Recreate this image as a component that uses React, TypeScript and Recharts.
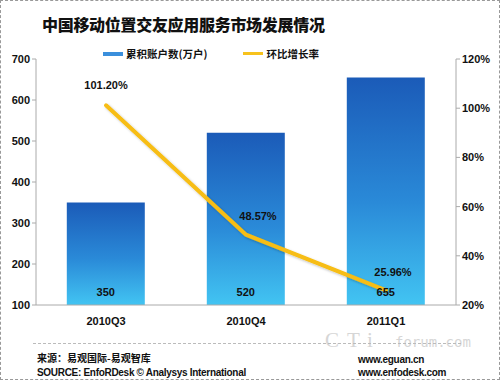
import {
  Bar,
  ComposedChart,
  LabelList,
  Line,
  XAxis,
  YAxis,
} from "recharts";

const quarters = ["2010Q3", "2010Q4", "2011Q1"];
const accounts = [350, 520, 655];
const growth = [101.2, 48.57, 25.96];
const growthLabels = ["101.20%", "48.57%", "25.96%"];
const leftTicks = [100, 200, 300, 400, 500, 600, 700];
const rightTicks = [20, 40, 60, 80, 100, 120];

const data = quarters.map((q, i) => ({
  q,
  accounts: accounts[i],
  growth: growth[i],
  label: growthLabels[i],
}));

// nudges for the growth labels so they sit like the original
const growthLabelShift = [
  { dx: 0, dy: -16 },
  { dx: 12, dy: -15 },
  { dx: 7, dy: -14 },
];

const FONT = "'Liberation Sans', 'Noto Sans CJK SC', sans-serif";
const tickStyle = { fontSize: 11, fontWeight: 700, fill: "#111", fontFamily: FONT };

function LegendBox() {
  return (
    <div
      style={{
        position: "absolute",
        left: 102,
        top: 45,
        display: "flex",
        gap: 36,
        fontSize: 10.5,
        fontWeight: 700,
        fontFamily: "'Noto Sans CJK SC', sans-serif",
        color: "#111",
      }}
    >
      <span style={{ display: "flex", alignItems: "center" }}>
        <span style={{ width: 20, height: 4, background: "#3a8fdc", marginRight: 3 }} />
        累积账户数(万户)
      </span>
      <span style={{ display: "flex", alignItems: "center" }}>
        <span style={{ width: 20, height: 3, background: "#f7c21c", marginRight: 3 }} />
        环比增长率
      </span>
    </div>
  );
}

export default function App() {
  return (
    <div
      style={{
        position: "absolute",
        left: 0,
        top: 0,
        width: 500,
        height: 380,
        boxSizing: "border-box",
        border: "1px dashed #999",
        background: "#fff",
        overflow: "hidden",
      }}
    >
      <div
        style={{
          position: "absolute",
          left: 41,
          top: 11,
          fontSize: 16,
          fontWeight: 900,
          fontFamily: "'Noto Sans CJK SC', sans-serif",
          color: "#111",
          letterSpacing: -0.3,
        }}
      >
        中国移动位置交友应用服务市场发展情况
      </div>

      <LegendBox />

      {/* watermark */}
      <div
        style={{
          position: "absolute",
          left: 324,
          top: 328,
          fontSize: 21,
          lineHeight: "22px",
          fontFamily: "'Liberation Serif', serif",
          color: "#d6d6d6",
          letterSpacing: 8,
        }}
      >
        CTi
      </div>
      <div
        style={{
          position: "absolute",
          left: 394,
          top: 333,
          fontSize: 14,
          lineHeight: "16px",
          fontFamily: "'DejaVu Sans Mono', monospace",
          color: "#d6d6d6",
        }}
      >
        forum.com
      </div>

      <div style={{ position: "absolute", left: -1, top: -1 }}>
        <ComposedChart
          width={500}
          height={380}
          data={data}
          margin={{ top: 59, right: 0, left: 0, bottom: 45 }}
          barCategoryGap="22%"
        >
          <defs>
            <linearGradient id="barFill" x1="0" y1="0" x2="0" y2="1">
              <stop offset="0%" stopColor="#1b5bb8" />
              <stop offset="55%" stopColor="#2a8ad8" />
              <stop offset="100%" stopColor="#42c4f2" />
            </linearGradient>
            <filter id="lineShadow" x="-10%" y="-10%" width="120%" height="120%">
              <feDropShadow dx="1.5" dy="1.5" stdDeviation="1" floodColor="#000" floodOpacity="0.25" />
            </filter>
          </defs>
          <XAxis
            dataKey="q"
            height={30}
            tick={{ ...tickStyle, dy: 4 }}
            tickLine={false}
            axisLine={{ stroke: "#aaa" }}
          />
          <YAxis
            yAxisId="left"
            width={36}
            domain={[100, 700]}
            ticks={leftTicks}
            tick={tickStyle}
            tickSize={4}
            tickLine={{ stroke: "#aaa" }}
            axisLine={{ stroke: "#aaa" }}
            interval={0}
          />
          <YAxis
            yAxisId="right"
            orientation="right"
            width={44}
            domain={[20, 120]}
            ticks={rightTicks}
            tickFormatter={(v) => `${v}%`}
            tick={tickStyle}
            tickSize={4}
            tickLine={{ stroke: "#aaa" }}
            axisLine={{ stroke: "#aaa" }}
            interval={0}
          />
          <Bar yAxisId="left" dataKey="accounts" fill="url(#barFill)" isAnimationActive={false}>
            <LabelList
              dataKey="accounts"
              content={(p: any) => (
                <text
                  x={p.x + p.width / 2}
                  y={p.y + p.height - 9}
                  textAnchor="middle"
                  style={tickStyle}
                >
                  {p.value}
                </text>
              )}
            />
          </Bar>
          <Line
            yAxisId="right"
            dataKey="growth"
            type="linear"
            stroke="#f7bd12"
            strokeWidth={4}
            strokeLinecap="round"
            dot={false}
            activeDot={false}
            filter="url(#lineShadow)"
            isAnimationActive={false}
          >
            <LabelList
              dataKey="label"
              content={(p: any) => {
                const s = growthLabelShift[p.index] || { dx: 0, dy: -14 };
                return (
                  <text x={p.x + s.dx} y={p.y + s.dy} textAnchor="middle" style={tickStyle}>
                    {p.value}
                  </text>
                );
              }}
            />
          </Line>
        </ComposedChart>
      </div>

      <div
        style={{
          position: "absolute",
          left: 32,
          top: 342,
          width: 428,
          borderTop: "1px dashed #bbb",
        }}
      />
      <div
        style={{
          position: "absolute",
          left: 36,
          top: 350,
          fontSize: 10,
          fontWeight: 700,
          fontFamily: "'Noto Sans CJK SC', sans-serif",
          color: "#111",
          lineHeight: "14px",
        }}
      >
        来源：易观国际-易观智库
      </div>
      <div
        style={{
          position: "absolute",
          left: 36,
          top: 365,
          fontSize: 10,
          fontWeight: 700,
          fontFamily: FONT,
          color: "#111",
          lineHeight: "13px",
          letterSpacing: -0.3,
        }}
      >
        SOURCE: EnfoRDesk © Analysys International
      </div>
      <div
        style={{
          position: "absolute",
          left: 357,
          top: 352,
          fontSize: 10,
          fontWeight: 700,
          fontFamily: FONT,
          color: "#111",
          lineHeight: "13px",
          letterSpacing: -0.3,
        }}
      >
        <div>www.eguan.cn</div>
        <div>www.enfodesk.com</div>
      </div>
    </div>
  );
}
